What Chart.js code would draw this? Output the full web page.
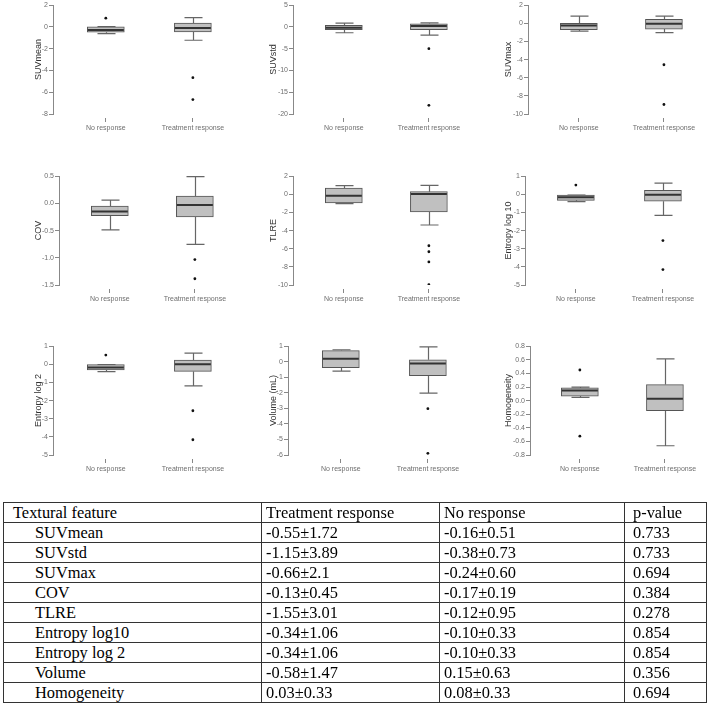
<!DOCTYPE html>
<html>
<head>
<meta charset="utf-8">
<script src="https://cdn.jsdelivr.net/npm/chart.js@4.4.1/dist/chart.umd.min.js"></script>
<style>
  body { margin: 0; background: #fff; }
  #page { position: relative; width: 709px; height: 704px; overflow: hidden; background: #fff; }
  .panel { position: absolute; }
  #stats { position: absolute; left: 3px; top: 502px; width: 703px; table-layout: fixed; border-collapse: collapse;
           font-family: "Liberation Serif", "Times New Roman", serif; font-size: 16.4px; color: #000; }
  #stats td { border: 1px solid #333; height: 19px; line-height: 18px; padding: 0 0 0 4px; white-space: nowrap; overflow: hidden; }
  #stats td.feat { padding-left: 31px; }
  #stats td.head { padding-left: 9px; }
  #stats td.pv { padding-left: 8px; }
</style>
</head>
<body>
<div id="page"></div>

<script>
// ---- data ----
const groups = ['No response', 'Treatment response'];
const features = ['SUVmean', 'SUVstd', 'SUVmax', 'COV', 'TLRE', 'Entropy log 10', 'Entropy log 2', 'Volume (mL)', 'Homogeneity'];

// each entry: [No response, Treatment response]
const lowerWhisker = [[-0.61, -1.22], [-1.33, -1.86], [-0.85, -1.03], [-0.485, -0.752], [-1.02, -3.38], [-0.40, -1.16], [-0.40, -1.19], [-0.60, -2.02], [0.046, -0.664]];
const lowerQuartile = [[-0.49, -0.46], [-0.64, -0.64], [-0.70, -0.63], [-0.224, -0.248], [-0.95, -1.93], [-0.33, -0.38], [-0.31, -0.39], [-0.38, -0.89], [0.066, -0.148]];
const medians = [[-0.28, -0.10], [-0.20, 0.20], [-0.23, -0.04], [-0.15, -0.029], [-0.15, 0.04], [-0.16, -0.02], [-0.17, 0.01], [0.19, -0.11], [0.148, 0.027]];
const upperQuartile = [[0.02, 0.36], [0.35, 0.73], [-0.01, 0.43], [-0.047, 0.135], [0.69, 0.29], [-0.04, 0.22], [-0.02, 0.23], [0.72, 0.13], [0.187, 0.236]];
const upperWhisker = [[0.03, 0.85], [0.88, 0.96], [0.80, 0.80], [0.062, 0.493], [0.95, 0.98], [-0.04, 0.62], [-0.02, 0.62], [0.77, 0.96], [0.197, 0.615]];
const outliers = [
  [[0.81], [-4.66, -6.67]],
  [[], [-4.99, -18.0]],
  [[], [-4.57, -8.95]],
  [[], [-1.032, -1.385]],
  [[], [-5.67, -6.33, -7.45, -9.96]],
  [[0.51], [-2.55, -4.15]],
  [[0.51], [-2.56, -4.16]],
  [[], [-3.02, -5.89]],
  [[0.45, -0.523], []]
];

// y axis tick range per feature
const axisMin = [-8, -20, -10, -1.5, -10, -5, -5, -6, -0.8];
const axisMax = [2, 5, 2, 0.5, 2, 1, 1, 1, 0.8];
const axisStep = [2, 5, 2, 0.5, 2, 1, 1, 1, 0.2];
const axisDecimals = [0, 0, 0, 1, 0, 0, 0, 0, 1];

// table
const tableFeatures = ['SUVmean', 'SUVstd', 'SUVmax', 'COV', 'TLRE', 'Entropy log10', 'Entropy log 2', 'Volume', 'Homogeneity'];
const treatmentStats = ['-0.55±1.72', '-1.15±3.89', '-0.66±2.1', '-0.13±0.45', '-1.55±3.01', '-0.34±1.06', '-0.34±1.06', '-0.58±1.47', '0.03±0.33'];
const noResponseStats = ['-0.16±0.51', '-0.38±0.73', '-0.24±0.60', '-0.17±0.19', '-0.12±0.95', '-0.10±0.33', '-0.10±0.33', '0.15±0.63', '0.08±0.33'];
const pValues = ['0.733', '0.733', '0.694', '0.384', '0.278', '0.854', '0.854', '0.356', '0.694'];

// ---- layout ----
const colLeft = [0, 235, 470];
const rowTop = [0, 171, 341];
const axisX = [53, 58, 58, 59, 58, 55, 53, 53, 60];
const firstCat = [54, 52, 52, 52, 52, 52, 54, 54, 51];
const catGap = [89, 87, 87, 87, 87, 89, 89, 89, 87];
const PAD_LEFT = 29;
const SANS = '"Liberation Sans", Arial, sans-serif';

// whiskers (before bars) and medians (after bars)
const boxParts = {
    id: 'boxParts',
    beforeDatasetsDraw(chart, args, opts) {
        const ctx = chart.ctx;
        const xs = chart.scales.x, ys = chart.scales.y;
        ctx.save();
        ctx.strokeStyle = '#666';
        ctx.lineWidth = 1.2;
        for (let i = 0; i < 2; i++) {
            const x = Math.round(xs.getPixelForValue(i)) + 0.5;
            [[opts.lo[i], opts.q1[i]], [opts.hi[i], opts.q3[i]]].forEach(([end, edge]) => {
                const yEnd = ys.getPixelForValue(end);
                const yEdge = ys.getPixelForValue(edge);
                ctx.beginPath();
                ctx.moveTo(x, yEdge);
                ctx.lineTo(x, yEnd);
                ctx.moveTo(x - 9, yEnd);
                ctx.lineTo(x + 9, yEnd);
                ctx.stroke();
            });
        }
        ctx.restore();
    },
    afterDatasetsDraw(chart, args, opts) {
        const ctx = chart.ctx;
        const xs = chart.scales.x, ys = chart.scales.y;
        ctx.save();
        ctx.strokeStyle = '#333';
        ctx.lineWidth = 2;
        for (let i = 0; i < 2; i++) {
            const x = xs.getPixelForValue(i);
            const y = ys.getPixelForValue(opts.med[i]);
            ctx.beginPath();
            ctx.moveTo(x - 18, y);
            ctx.lineTo(x + 18, y);
            ctx.stroke();
        }
        ctx.restore();
    }
};

const page = document.getElementById('page');

features.forEach((name, k) => {
    const col = k % 3, row = Math.floor(k / 3);
    const width = col === 2 ? 239 : 236;
    const canvas = document.createElement('canvas');
    canvas.className = 'panel';
    canvas.width = width;
    canvas.height = 150;
    canvas.style.left = colLeft[col] + 'px';
    canvas.style.top = rowTop[row] + 'px';
    page.appendChild(canvas);

    const xMin = -firstCat[k] / catGap[k];
    const xMax = xMin + (width - axisX[k]) / catGap[k];

    const boxes = groups.map((g, i) => ({ x: i, y: [lowerQuartile[k][i], upperQuartile[k][i]] }));
    const dots = [];
    outliers[k].forEach((vals, i) => vals.forEach(v => dots.push({ x: i, y: v })));

    new Chart(canvas.getContext('2d'), {
        type: 'bar',
        data: {
            datasets: [
                {
                    type: 'bar',
                    data: boxes,
                    backgroundColor: '#c0c0c0',
                    borderColor: '#555',
                    borderWidth: 1,
                    borderSkipped: false,
                    barThickness: 37
                },
                {
                    type: 'scatter',
                    data: dots,
                    pointRadius: 1.4,
                    pointBackgroundColor: '#111',
                    pointBorderWidth: 0
                }
            ]
        },
        options: {
            responsive: false,
            animation: false,
            devicePixelRatio: 1,
            layout: { padding: { left: PAD_LEFT, top: 4, right: 0, bottom: 0 } },
            plugins: {
                legend: { display: false },
                tooltip: { enabled: false },
                boxParts: {
                    lo: lowerWhisker[k], q1: lowerQuartile[k], med: medians[k],
                    q3: upperQuartile[k], hi: upperWhisker[k]
                }
            },
            scales: {
                x: {
                    type: 'linear',
                    min: xMin,
                    max: xMax,
                    offset: false,
                    afterBuildTicks: s => { s.ticks = [{ value: 0 }, { value: 1 }]; },
                    afterFit: s => { s.height = 36; },
                    border: { display: false },
                    grid: {
                        offset: false,
                        drawOnChartArea: false,
                        tickLength: 8,
                        tickColor: '#888',
                        tickBorderDash: [0, 4, 4]
                    },
                    ticks: {
                        autoSkip: false,
                        maxRotation: 0,
                        padding: 2,
                        color: '#6e6e6e',
                        font: { family: SANS, size: 7 },
                        callback: v => groups[v]
                    }
                },
                y: {
                    min: axisMin[k],
                    max: axisMax[k],
                    afterFit: s => { s.width = axisX[k] - PAD_LEFT; },
                    border: { display: true, color: '#888', width: 1 },
                    grid: { drawOnChartArea: false, tickLength: 4, tickColor: '#888' },
                    ticks: {
                        stepSize: axisStep[k],
                        padding: 1,
                        color: '#6e6e6e',
                        font: { family: SANS, size: 7 },
                        callback: v => Number(v).toFixed(axisDecimals[k])
                    },
                    title: {
                        display: true,
                        text: name,
                        color: '#333',
                        padding: { top: 4, bottom: 0 },
                        font: { family: SANS, size: 9 }
                    }
                }
            }
        },
        plugins: [boxParts]
    });
});

// ---- table ----
const table = document.createElement('table');
table.id = 'stats';
const colWidths = [258, 178, 185, 82];
const colgroup = document.createElement('colgroup');
colWidths.forEach(w => {
    const c = document.createElement('col');
    c.style.width = w + 'px';
    colgroup.appendChild(c);
});
table.appendChild(colgroup);
function addRow(cells, classes) {
    const tr = document.createElement('tr');
    cells.forEach((text, i) => {
        const td = document.createElement('td');
        td.textContent = text;
        if (classes[i]) td.className = classes[i];
        tr.appendChild(td);
    });
    table.appendChild(tr);
}
addRow(['Textural feature', 'Treatment response', 'No response', 'p-value'], ['head', '', '', 'pv']);
tableFeatures.forEach((f, i) => {
    addRow([f, treatmentStats[i], noResponseStats[i], pValues[i]], ['feat', '', '', 'pv']);
});
page.appendChild(table);
</script>
</body>
</html>
